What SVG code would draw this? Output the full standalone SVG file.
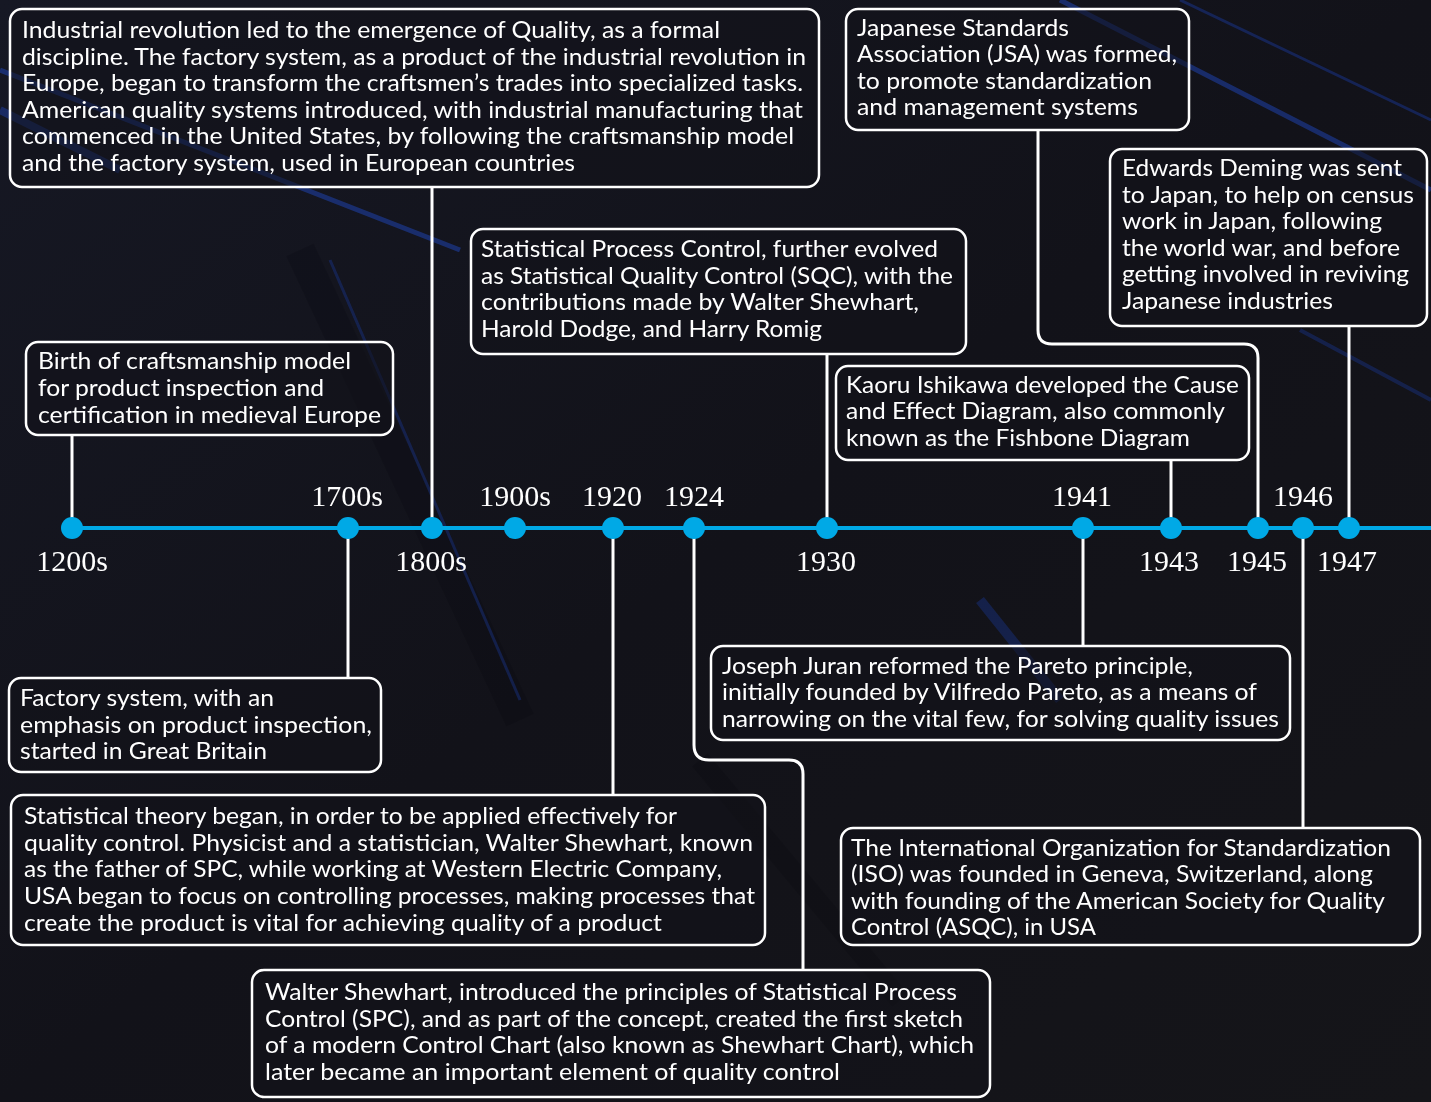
<svg xmlns="http://www.w3.org/2000/svg" width="1431" height="1102" viewBox="0 0 1431 1102">
<defs>
<linearGradient id="bg" x1="0" y1="0" x2="1" y2="1">
<stop offset="0" stop-color="#161824"/>
<stop offset="0.5" stop-color="#121219"/>
<stop offset="1" stop-color="#151519"/>
</linearGradient>
<style>
.box{fill:#121219;fill-opacity:0.55;stroke:#ffffff;stroke-width:2.5}
.t{font-family:"Lato","Liberation Sans",sans-serif;font-size:23px;fill:#ffffff}
.yr{font-family:"Liberation Serif","DejaVu Serif",serif;font-size:30px;fill:#ffffff;text-anchor:middle}
.con{fill:none;stroke:#ffffff;stroke-width:3}
.dot{fill:#00a9e6}
.tl{stroke:#00a9e6;stroke-width:4}
</style>
</defs>
<rect width="1431" height="1102" fill="url(#bg)"/>
<g id="background" opacity="0.6">
<path d="M0 70 L460 250" stroke="#2350d8" stroke-width="5" opacity="0.7"/>
<path d="M0 110 L120 170" stroke="#2350d8" stroke-width="8" opacity="0.6"/>
<path d="M300 250 L520 720" stroke="#0a0a10" stroke-width="30" opacity="0.35"/>
<path d="M330 260 L520 700" stroke="#1d45c0" stroke-width="3" opacity="0.5"/>
<path d="M1060 0 L1431 190" stroke="#2350d8" stroke-width="5" opacity="0.7"/>
<path d="M1180 0 L1431 120" stroke="#1d45c0" stroke-width="3" opacity="0.6"/>
<path d="M1300 330 L1431 400" stroke="#1d45c0" stroke-width="4" opacity="0.5"/>
<path d="M980 600 L1060 700" stroke="#1d45c0" stroke-width="10" opacity="0.5"/>
<path d="M700 760 L900 1000" stroke="#0a0a10" stroke-width="20" opacity="0.3"/>
</g>
<g id="connectors">
<path class="con" d="M72 435 V528"/>
<path class="con" d="M348 528 V678"/>
<path class="con" d="M432 187 V528"/>
<path class="con" d="M613 528 V795"/>
<path class="con" d="M694 528 V745 Q694 760 709 760 H789 Q803 760 803 774 V970"/>
<path class="con" d="M827 354 V528"/>
<path class="con" d="M1083 528 V646"/>
<path class="con" d="M1171 460 V528"/>
<path class="con" d="M1038 130 V330 Q1038 344 1052 344 H1244 Q1258 344 1258 358 V528"/>
<path class="con" d="M1303 528 V828"/>
<path class="con" d="M1349 326 V528"/>
</g>
<g id="timeline">
<line class="tl" x1="72" y1="528" x2="1431" y2="528"/>
<circle class="dot" cx="72" cy="528" r="11"/>
<circle class="dot" cx="348" cy="528" r="11"/>
<circle class="dot" cx="432" cy="528" r="11"/>
<circle class="dot" cx="515" cy="528" r="11"/>
<circle class="dot" cx="613" cy="528" r="11"/>
<circle class="dot" cx="694" cy="528" r="11"/>
<circle class="dot" cx="827" cy="528" r="11"/>
<circle class="dot" cx="1083" cy="528" r="11"/>
<circle class="dot" cx="1171" cy="528" r="11"/>
<circle class="dot" cx="1258" cy="528" r="11"/>
<circle class="dot" cx="1303" cy="528" r="11"/>
<circle class="dot" cx="1349" cy="528" r="11"/>
<text class="yr" x="72" y="571">1200s</text>
<text class="yr" x="347" y="506">1700s</text>
<text class="yr" x="431" y="571">1800s</text>
<text class="yr" x="515" y="506">1900s</text>
<text class="yr" x="612" y="506">1920</text>
<text class="yr" x="694" y="506">1924</text>
<text class="yr" x="826" y="571">1930</text>
<text class="yr" x="1082" y="506">1941</text>
<text class="yr" x="1169" y="571">1943</text>
<text class="yr" x="1257" y="571">1945</text>
<text class="yr" x="1303" y="506">1946</text>
<text class="yr" x="1347" y="571">1947</text>
</g>
<g id="n-industrial">
<rect class="box" x="10" y="9" width="809" height="178" rx="12"/>
<text class="t" x="22" y="38" textLength="698" lengthAdjust="spacingAndGlyphs">Industrial revolution led to the emergence of Quality, as a formal</text>
<text class="t" x="22" y="65" textLength="784" lengthAdjust="spacingAndGlyphs">discipline. The factory system, as a product of the industrial revolution in</text>
<text class="t" x="22" y="91" textLength="781" lengthAdjust="spacingAndGlyphs">Europe, began to transform the craftsmen’s trades into specialized tasks.</text>
<text class="t" x="22" y="118" textLength="781" lengthAdjust="spacingAndGlyphs">American quality systems introduced, with industrial manufacturing that</text>
<text class="t" x="22" y="144" textLength="772" lengthAdjust="spacingAndGlyphs">commenced in the United States, by following the craftsmanship model</text>
<text class="t" x="22" y="171" textLength="553" lengthAdjust="spacingAndGlyphs">and the factory system, used in European countries</text>
</g>
<g id="n-jsa">
<rect class="box" x="846" y="9" width="343" height="121" rx="12"/>
<text class="t" x="857" y="36" textLength="212" lengthAdjust="spacingAndGlyphs">Japanese Standards</text>
<text class="t" x="857" y="62" textLength="320" lengthAdjust="spacingAndGlyphs">Association (JSA) was formed,</text>
<text class="t" x="857" y="89" textLength="295" lengthAdjust="spacingAndGlyphs">to promote standardization</text>
<text class="t" x="857" y="115" textLength="281" lengthAdjust="spacingAndGlyphs">and management systems</text>
</g>
<g id="n-deming">
<rect class="box" x="1110" y="149" width="317" height="177" rx="12"/>
<text class="t" x="1122" y="176" textLength="280" lengthAdjust="spacingAndGlyphs">Edwards Deming was sent</text>
<text class="t" x="1122" y="203" textLength="292" lengthAdjust="spacingAndGlyphs">to Japan, to help on census</text>
<text class="t" x="1122" y="229" textLength="260" lengthAdjust="spacingAndGlyphs">work in Japan, following</text>
<text class="t" x="1122" y="256" textLength="278" lengthAdjust="spacingAndGlyphs">the world war, and before</text>
<text class="t" x="1122" y="282" textLength="287" lengthAdjust="spacingAndGlyphs">getting involved in reviving</text>
<text class="t" x="1122" y="309" textLength="211" lengthAdjust="spacingAndGlyphs">Japanese industries</text>
</g>
<g id="n-sqc">
<rect class="box" x="471" y="229" width="495" height="125" rx="12"/>
<text class="t" x="481" y="257" textLength="457" lengthAdjust="spacingAndGlyphs">Statistical Process Control, further evolved</text>
<text class="t" x="481" y="284" textLength="472" lengthAdjust="spacingAndGlyphs">as Statistical Quality Control (SQC), with the</text>
<text class="t" x="481" y="310" textLength="438" lengthAdjust="spacingAndGlyphs">contributions made by Walter Shewhart,</text>
<text class="t" x="481" y="337" textLength="341" lengthAdjust="spacingAndGlyphs">Harold Dodge, and Harry Romig</text>
</g>
<g id="n-birth">
<rect class="box" x="26" y="342" width="367" height="93" rx="12"/>
<text class="t" x="38" y="369" textLength="313" lengthAdjust="spacingAndGlyphs">Birth of craftsmanship model</text>
<text class="t" x="38" y="396" textLength="286" lengthAdjust="spacingAndGlyphs">for product inspection and</text>
<text class="t" x="38" y="423" textLength="343" lengthAdjust="spacingAndGlyphs">certification in medieval Europe</text>
</g>
<g id="n-ishikawa">
<rect class="box" x="836" y="366" width="413" height="94" rx="12"/>
<text class="t" x="846" y="393" textLength="393" lengthAdjust="spacingAndGlyphs">Kaoru Ishikawa developed the Cause</text>
<text class="t" x="846" y="419" textLength="379" lengthAdjust="spacingAndGlyphs">and Effect Diagram, also commonly</text>
<text class="t" x="846" y="446" textLength="344" lengthAdjust="spacingAndGlyphs">known as the Fishbone Diagram</text>
</g>
<g id="n-juran">
<rect class="box" x="711" y="646" width="579" height="94" rx="12"/>
<text class="t" x="722" y="674" textLength="471" lengthAdjust="spacingAndGlyphs">Joseph Juran reformed the Pareto principle,</text>
<text class="t" x="722" y="700" textLength="535" lengthAdjust="spacingAndGlyphs">initially founded by Vilfredo Pareto, as a means of</text>
<text class="t" x="722" y="727" textLength="557" lengthAdjust="spacingAndGlyphs">narrowing on the vital few, for solving quality issues</text>
</g>
<g id="n-factory">
<rect class="box" x="9" y="678" width="372" height="94" rx="12"/>
<text class="t" x="20" y="706" textLength="254" lengthAdjust="spacingAndGlyphs">Factory system, with an</text>
<text class="t" x="20" y="733" textLength="352" lengthAdjust="spacingAndGlyphs">emphasis on product inspection,</text>
<text class="t" x="20" y="759" textLength="247" lengthAdjust="spacingAndGlyphs">started in Great Britain</text>
</g>
<g id="n-stattheory">
<rect class="box" x="11" y="795" width="754" height="150" rx="12"/>
<text class="t" x="24" y="824" textLength="653" lengthAdjust="spacingAndGlyphs">Statistical theory began, in order to be applied effectively for</text>
<text class="t" x="24" y="851" textLength="729" lengthAdjust="spacingAndGlyphs">quality control. Physicist and a statistician, Walter Shewhart, known</text>
<text class="t" x="24" y="877" textLength="698" lengthAdjust="spacingAndGlyphs">as the father of SPC, while working at Western Electric Company,</text>
<text class="t" x="24" y="904" textLength="731" lengthAdjust="spacingAndGlyphs">USA began to focus on controlling processes, making processes that</text>
<text class="t" x="24" y="931" textLength="638" lengthAdjust="spacingAndGlyphs">create the product is vital for achieving quality of a product</text>
</g>
<g id="n-iso">
<rect class="box" x="841" y="828" width="579" height="117" rx="12"/>
<text class="t" x="851" y="856" textLength="540" lengthAdjust="spacingAndGlyphs">The International Organization for Standardization</text>
<text class="t" x="851" y="882" textLength="522" lengthAdjust="spacingAndGlyphs">(ISO) was founded in Geneva, Switzerland, along</text>
<text class="t" x="851" y="909" textLength="534" lengthAdjust="spacingAndGlyphs">with founding of the American Society for Quality</text>
<text class="t" x="851" y="935" textLength="245" lengthAdjust="spacingAndGlyphs">Control (ASQC), in USA</text>
</g>
<g id="n-shewhart">
<rect class="box" x="252" y="970" width="738" height="127" rx="12"/>
<text class="t" x="265" y="1000" textLength="692" lengthAdjust="spacingAndGlyphs">Walter Shewhart, introduced the principles of Statistical Process</text>
<text class="t" x="265" y="1027" textLength="698" lengthAdjust="spacingAndGlyphs">Control (SPC), and as part of the concept, created the first sketch</text>
<text class="t" x="265" y="1053" textLength="709" lengthAdjust="spacingAndGlyphs">of a modern Control Chart (also known as Shewhart Chart), which</text>
<text class="t" x="265" y="1080" textLength="575" lengthAdjust="spacingAndGlyphs">later became an important element of quality control</text>
</g>
</svg>
